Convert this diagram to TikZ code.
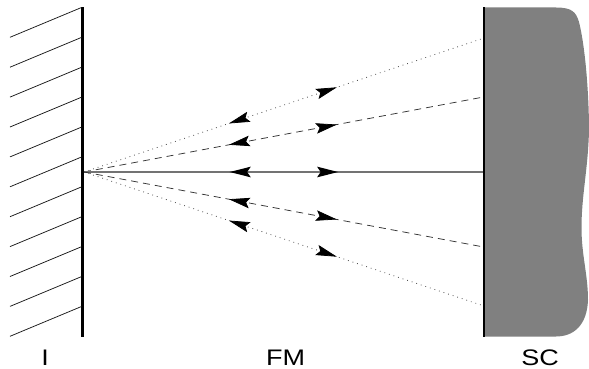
\documentclass[tikz,border=0pt]{standalone}
\usepackage{fontspec}
\setmainfont{Liberation Sans}
\usetikzlibrary{arrows.meta,decorations.markings}
\definecolor{screengray}{gray}{0.5}
\tikzset{
  px/.style={x=1pt,y=-1pt},
  wall/.style={line width=2.6pt,line cap=butt},
  hatch/.style={line width=0.75pt,black!90},
  ray/.style={line width=0.75pt,postaction={decorate},decoration={markings,
    mark=at position 0.637 with {\arrow[solid,black]{myhead}},
    mark=at position 0.365 with {\arrowreversed[solid,black]{myhead}}}},
  solidray/.style={ray,draw=black!55,line width=1.2pt},
  dashray/.style={ray,dash pattern=on 7pt off 5pt,draw=black!80},
  dotray/.style={ray,dash pattern=on 0.8pt off 4pt,draw=black!75},
  label/.style={font=\fontsize{22.5}{22.5}\selectfont,anchor=base,inner sep=0pt},
  myhead/.tip={Stealth[length=21pt,width=10.5pt,inset=3.5pt]}
}
\newcommand{\widelabel}[1]{\scalebox{1.2}[1]{#1}}
\begin{document}
\begin{tikzpicture}[px]
\useasboundingbox (0,0) rectangle (589,369);
% screen body
\fill[screengray] (484,7.5) -- (556,7.5)
  .. controls (572,7.5) and (576,12) .. (579,22)
  .. controls (586,50) and (589,100) .. (589,130)
  .. controls (588,170) and (581.5,195) .. (581.5,228)
  .. controls (581.5,255) and (588,275) .. (588,300)
  .. controls (587,325) and (574,336.5) .. (556,336.5)
  -- (484,336.5) -- cycle;
% walls
\coordinate (It) at (82.5,7.5);
\coordinate (Ib) at (82.5,336.5);
\coordinate (St) at (484,7.5);
\coordinate (Sb) at (484,336.5);
\draw[wall] (It) -- (Ib);
\draw[wall] (St) -- (Sb);
% hatching
\foreach \i in {0,...,10}{
  \coordinate (ha\i) at (81.5,{7.5+29.9*\i});
  \coordinate (hb\i) at (10,{37.3+29.9*\i});
  \draw[hatch] (ha\i) -- (hb\i);
}
% rays
\coordinate (O) at (84,172);
\coordinate (E1) at (481,39);
\coordinate (E2) at (481,97.5);
\coordinate (E3) at (483,172);
\coordinate (E4) at (481,246.5);
\coordinate (E5) at (481,305);
\draw[dotray] (O) -- (E1);
\draw[dashray] (O) -- (E2);
\draw[solidray] (O) -- (E3);
\draw[dashray] (O) -- (E4);
\draw[dotray] (O) -- (E5);
% labels
\node[label] (LI) at (45,365.5) {\widelabel{I}};
\node[label] (LF) at (285.5,365.5) {\widelabel{FM}};
\node[label] (LS) at (540,365.5) {\widelabel{SC}};
\end{tikzpicture}
\end{document}
